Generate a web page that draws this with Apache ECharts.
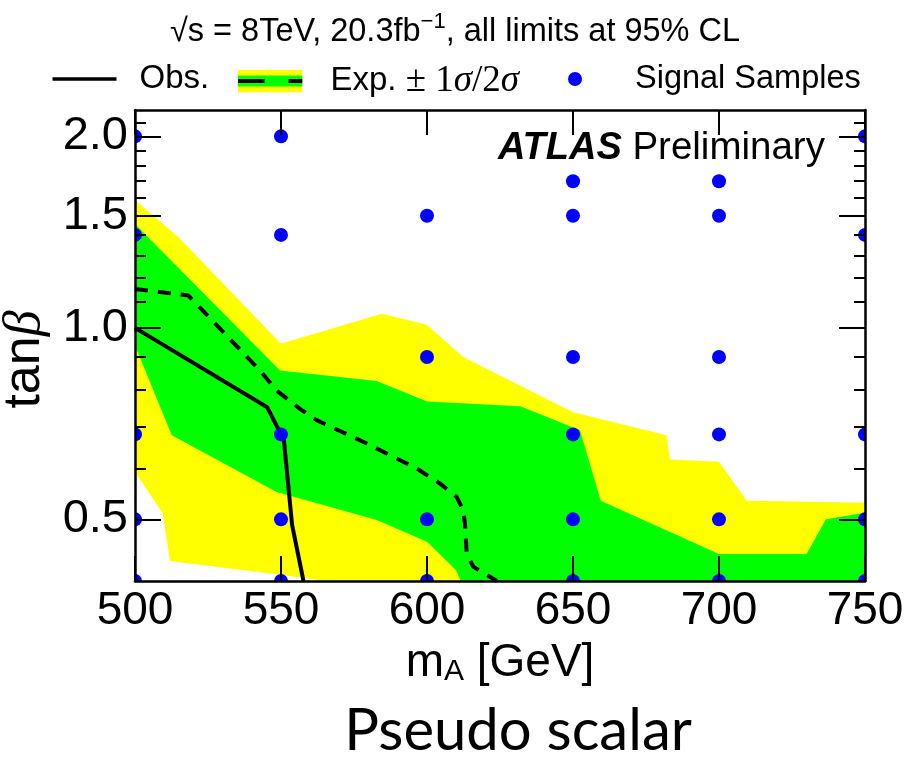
<!DOCTYPE html>
<html>
<head>
<meta charset="utf-8">
<script src="https://cdn.jsdelivr.net/npm/echarts@6/dist/echarts.min.js"></script>
<style>
  html, body { margin: 0; padding: 0; background: #fff; }
  #main { width: 910px; height: 760px; }
</style>
</head>
<body>
<div id="main"></div>
<script>
// Axis ticks
const massTicks = [500, 550, 600, 650, 700, 750];
const tanbMajor = [0.5, 1.0, 1.5, 2.0];
const tanbMinor = [0.6, 0.7, 0.8, 0.9, 1.1, 1.2, 1.3, 1.4, 1.6, 1.7, 1.8, 1.9, 2.1];

// Observed 95% CL limit [mA, tanb]
const observed = [[500, 1.0], [545.3, 0.75], [550, 0.68], [551, 0.665], [553.8, 0.49], [557.7, 0.4]];

// Expected 95% CL limit [mA, tanb]
const expected = [[500, 1.151], [518.3, 1.124], [542.8, 0.857], [548.5, 0.797], [556.5, 0.746],
  [562.2, 0.716], [579.4, 0.658], [596.5, 0.601], [604.5, 0.569], [610.2, 0.542], [612.4, 0.517],
  [613, 0.493], [613.6, 0.442], [615.9, 0.421], [624, 0.4]];

// +/-2 sigma band edges
const plus2 = [[500, 1.588], [515, 1.387], [550, 0.944], [584.5, 1.052], [600, 1.011], [612.4, 0.9],
  [650, 0.737], [682, 0.678], [683.2, 0.621], [700, 0.616], [709.5, 0.535], [750, 0.531]];
const minus2 = [[500, 0.594], [509.5, 0.511], [512, 0.43], [550, 0.409], [565, 0.4], [750, 0.4]];

// +/-1 sigma band edges
const plus1 = [[500, 1.456], [549.7, 0.857], [582.8, 0.825], [600, 0.766], [632, 0.753], [652.4, 0.69],
  [659.5, 0.535], [700, 0.441], [730, 0.441], [736.6, 0.5], [750, 0.512]];
const minus1 = [[500, 0.938], [512.6, 0.678], [548.5, 0.552], [556.5, 0.539], [582.8, 0.499], [600, 0.461],
  [610, 0.416], [611.5, 0.4], [750, 0.4]];

// Generated signal points [mA, tanb]
const samples = [
  [500, 2.0], [500, 1.4], [500, 0.68], [500, 0.5], [500, 0.4],
  [550, 2.0], [550, 1.4], [550, 0.68], [550, 0.5], [550, 0.4],
  [600, 1.5], [600, 0.9], [600, 0.5], [600, 0.4],
  [650, 1.7], [650, 1.5], [650, 0.9], [650, 0.68], [650, 0.5], [650, 0.4],
  [700, 1.7], [700, 1.5], [700, 0.9], [700, 0.68], [700, 0.5], [700, 0.4],
  [750, 2.0], [750, 1.4], [750, 0.68], [750, 0.5], [750, 0.4]
];

const SANS = 'Liberation Sans, Arial, Helvetica, sans-serif';
const SERIF = 'Liberation Serif, Times New Roman, serif';
const YELLOW = '#ffff00';
const GREEN = '#00ff00';
const BLUE = '#0000ff';

const frameLine = { show: true, onZero: false, lineStyle: { color: '#000', width: 2.5 } };
const majorTick = { show: true, inside: true, length: 25, lineStyle: { color: '#000', width: 2 } };

function bandOutline(upper, lower) {
  return upper.concat(lower.slice().reverse());
}

function polygonRenderer(outline, color) {
  return function (params, api) {
    if (params.dataIndex !== 0) return null;
    return {
      type: 'polygon',
      shape: { points: outline.map(p => api.coord(p)) },
      style: { fill: color }
    };
  };
}

const band2 = bandOutline(plus2, minus2);
const band1 = bandOutline(plus1, minus1);

const expIcon = 'image://data:image/svg+xml;charset=utf-8,' + encodeURIComponent(
  "<svg xmlns='http://www.w3.org/2000/svg' width='65' height='23'>" +
  "<rect width='65' height='23' fill='#ffff00'/>" +
  "<rect y='6' width='65' height='11' fill='#00ff00'/>" +
  "<rect y='9.5' width='27' height='4' fill='#000'/>" +
  "<rect x='51' y='9.5' width='14' height='4' fill='#000'/>" +
  "</svg>");

function yAxisDef(position, isMajor, extra) {
  return Object.assign({
    type: 'log', logBase: 10, min: 0.4, max: 2.2, position: position, z: 10,
    axisLine: isMajor ? frameLine : { show: false, onZero: false },
    axisTick: {
      show: true, inside: true, length: isMajor ? 26 : 11,
      customValues: isMajor ? tanbMajor : tanbMinor,
      lineStyle: { color: '#000', width: 2 }
    },
    axisLabel: { show: false },
    splitLine: { show: false },
    minorTick: { show: false }
  }, extra || {});
}

const chart = echarts.init(document.getElementById('main'), null, { renderer: 'canvas' });

chart.setOption({
  animation: false,
  backgroundColor: '#fff',
  grid: { left: 135, right: 45, top: 110, bottom: 179, containLabel: false, outerBoundsMode: 'none' },
  xAxis: [
    {
      type: 'value', position: 'bottom', min: massTicks[0], max: massTicks[massTicks.length - 1],
      interval: 50, z: 10,
      axisLine: frameLine, axisTick: majorTick,
      axisLabel: { show: true, margin: 7, fontSize: 46, color: '#000', fontFamily: SANS },
      splitLine: { show: false },
      name: '{m|m}{s|A}{m| [GeV]}', nameLocation: 'middle', nameGap: 58,
      nameTextStyle: {
        color: '#000', fontSize: 46, fontFamily: SANS,
        rich: {
          m: { fontSize: 46, fontFamily: SANS, color: '#000' },
          s: { fontSize: 30, fontFamily: SANS, color: '#000', padding: [18, 0, 0, 0] }
        }
      }
    },
    {
      type: 'value', position: 'top', min: massTicks[0], max: massTicks[massTicks.length - 1],
      interval: 50, z: 10,
      axisLine: frameLine, axisTick: majorTick,
      axisLabel: { show: false }, splitLine: { show: false }
    }
  ],
  yAxis: [
    yAxisDef('left', true, {
      axisLabel: {
        show: true, customValues: tanbMajor, formatter: v => Number(v).toFixed(1),
        margin: 7, fontSize: 47, color: '#000', fontFamily: SANS
      },
      name: '{t|tan}{b|β}', nameLocation: 'middle', nameGap: 84, nameRotate: 90,
      nameTextStyle: {
        color: '#000', fontSize: 52, fontFamily: SANS, padding: [0, 28, 0, 0],
        rich: {
          t: { fontSize: 52, fontFamily: SANS, color: '#000' },
          b: { fontSize: 52, fontFamily: SERIF, fontStyle: 'italic', color: '#000' }
        }
      }
    }),
    yAxisDef('left', false),
    yAxisDef('right', true),
    yAxisDef('right', false)
  ],
  legend: [
    {
      left: 52.5, top: 62.5, padding: 0, selectedMode: false,
      data: [{ name: 'Obs.', icon: 'rect' }],
      itemWidth: 64, itemHeight: 3.5,
      textStyle: { fontSize: 33, fontFamily: SANS, color: '#000', padding: [0, 0, 0, 18] }
    },
    {
      left: 237.5, top: 62.5, padding: 0, selectedMode: false,
      data: [{ name: 'Exp. ± 1σ/2σ', icon: expIcon }],
      itemWidth: 65, itemHeight: 23,
      formatter: () => '{a|Exp.} {m|± 1}{s|σ}{m|/2}{s|σ}',
      textStyle: {
        fontSize: 33, fontFamily: SANS, color: '#000', padding: [0, 0, 0, 23],
        rich: {
          a: { fontSize: 33, fontFamily: SANS, color: '#000' },
          m: { fontSize: 37, fontFamily: SERIF, color: '#000' },
          s: { fontSize: 37, fontFamily: SERIF, fontStyle: 'italic', color: '#000' }
        }
      }
    },
    {
      left: 568, top: 62.5, padding: 0, selectedMode: false,
      data: [{ name: 'Signal Samples', icon: 'circle' }],
      itemWidth: 14, itemHeight: 14,
      textStyle: { fontSize: 32.5, fontFamily: SANS, color: '#000', padding: [0, 0, 0, 48] }
    }
  ],
  graphic: [
    {
      type: 'text', x: 455, y: 32.5, z: 20,
      style: {
        text: '√s = 8TeV, 20.3fb{sup|−1}, all limits at 95% CL',
        fontSize: 32.5, fontFamily: SANS, fill: '#000', align: 'center', verticalAlign: 'middle',
        rich: {
          sup: { fontSize: 22, fontFamily: SANS, fill: '#000', padding: [0, 0, 22, 0] }
        }
      }
    },
    {
      type: 'text', x: 498, y: 148.5, z: 20,
      style: {
        text: '{a|ATLAS} {b|Preliminary}',
        fontSize: 38, fontFamily: SANS, fill: '#000', align: 'left', verticalAlign: 'middle',
        rich: {
          a: { fontSize: 38, fontFamily: SANS, fontWeight: 'bold', fontStyle: 'italic', fill: '#000' },
          b: { fontSize: 38.5, fontFamily: SANS, fill: '#000' }
        }
      }
    },
    {
      type: 'text', x: 518, y: 731, z: 20,
      style: {
        text: 'Pseudo scalar',
        fontSize: 58, fontFamily: 'Lato, Open Sans, sans-serif', fill: '#000',
        align: 'center', verticalAlign: 'middle'
      }
    }
  ],
  series: [
    {
      name: '±2σ', type: 'custom', coordinateSystem: 'cartesian2d', clip: true, z: 1,
      data: band2, renderItem: polygonRenderer(band2, YELLOW), silent: true
    },
    {
      name: '±1σ', type: 'custom', coordinateSystem: 'cartesian2d', clip: true, z: 2,
      data: band1, renderItem: polygonRenderer(band1, GREEN), silent: true
    },
    {
      name: 'Exp. ± 1σ/2σ', type: 'line', data: expected, symbol: 'none', clip: true, z: 3,
      color: '#000', lineStyle: { color: '#000', width: 4, type: [13, 10] }, silent: true
    },
    {
      name: 'Obs.', type: 'line', data: observed, symbol: 'none', clip: true, z: 3,
      color: '#000', lineStyle: { color: '#000', width: 4 }, silent: true
    },
    {
      name: 'Signal Samples', type: 'custom', coordinateSystem: 'cartesian2d', clip: true, z: 4,
      data: samples, color: BLUE, itemStyle: { color: BLUE }, silent: true,
      renderItem: function (params, api) {
        const p = api.coord([api.value(0), api.value(1)]);
        return { type: 'circle', shape: { cx: p[0], cy: p[1], r: 7 }, style: { fill: BLUE } };
      }
    }
  ]
});
</script>
</body>
</html>
